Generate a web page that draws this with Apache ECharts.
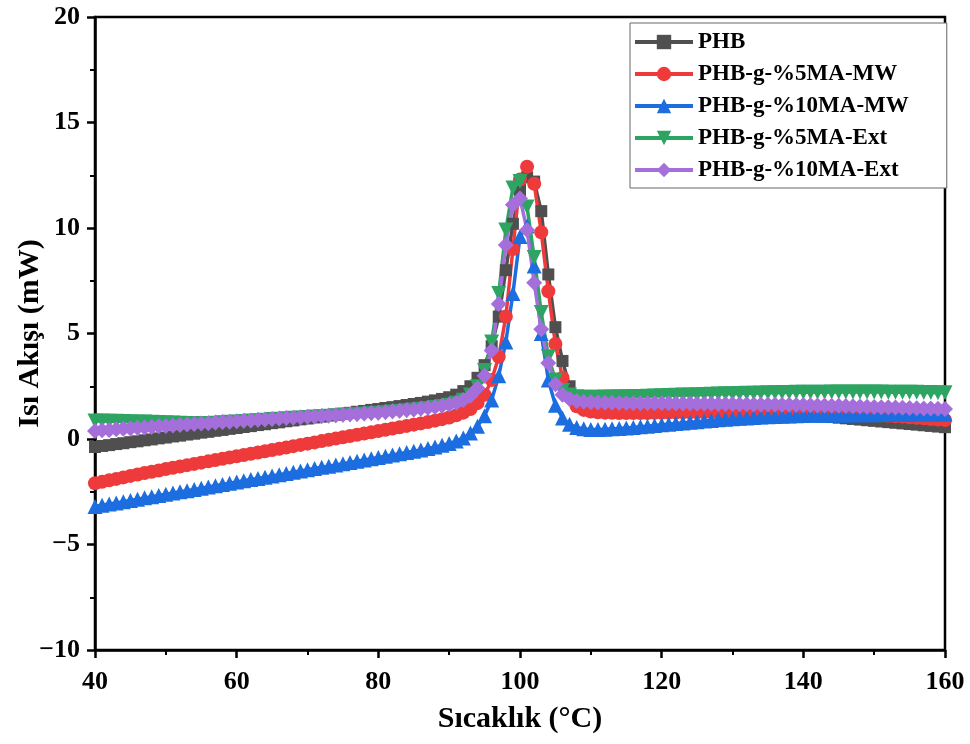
<!DOCTYPE html>
<html>
<head>
<meta charset="utf-8">
<script src="https://cdn.jsdelivr.net/npm/echarts@6/dist/echarts.min.js"></script>
<style>html,body{margin:0;padding:0;background:#fff}#c{width:970px;height:744px}</style>
</head>
<body>
<div id="c"></div>
<script>
// Temperature grid, 40..160 °C in 1 °C steps
const temps = [];
for (let t = 40; t <= 160; t++) temps.push(t);

const seriesNames = ['PHB', 'PHB-g-%5MA-MW', 'PHB-g-%10MA-MW', 'PHB-g-%5MA-Ext', 'PHB-g-%10MA-Ext'];

const phb = [
  -0.38,-0.33,-0.29,-0.24,-0.20,-0.15,-0.11,-0.06,-0.02,0.03,
  0.07,0.12,0.16,0.21,0.25,0.30,0.34,0.39,0.43,0.48,
  0.52,0.57,0.61,0.66,0.70,0.75,0.79,0.84,0.88,0.93,
  0.97,1.02,1.06,1.11,1.15,1.20,1.24,1.29,1.33,1.38,
  1.42,1.47,1.51,1.56,1.61,1.66,1.71,1.77,1.83,1.90,
  1.98,2.10,2.27,2.50,2.90,3.50,4.4,5.8,8.0,10.2,
  11.8,12.4,12.2,10.8,7.8,5.3,3.7,2.5,1.95,1.72,
  1.62,1.60,1.58,1.57,1.56,1.55,1.54,1.53,1.52,1.51,
  1.50,1.49,1.48,1.47,1.45,1.44,1.42,1.40,1.38,1.36,
  1.34,1.32,1.30,1.28,1.26,1.24,1.22,1.20,1.18,1.16,
  1.14,1.12,1.09,1.07,1.04,1.01,0.98,0.95,0.92,0.89,
  0.86,0.83,0.80,0.77,0.74,0.71,0.68,0.65,0.62,0.59,
  0.56
];
const ma5mw = [
  -2.10,-2.03,-1.96,-1.89,-1.82,-1.75,-1.68,-1.61,-1.55,-1.49,
  -1.42,-1.36,-1.30,-1.24,-1.18,-1.12,-1.06,-1.00,-0.94,-0.88,
  -0.82,-0.76,-0.70,-0.64,-0.58,-0.52,-0.46,-0.40,-0.34,-0.28,
  -0.22,-0.16,-0.10,-0.04,0.02,0.08,0.14,0.20,0.26,0.32,
  0.38,0.44,0.50,0.56,0.62,0.68,0.74,0.80,0.87,0.94,
  1.02,1.12,1.25,1.42,1.70,2.10,2.8,3.9,5.8,9.0,
  12.3,12.9,12.1,9.8,7.0,4.5,2.9,2.0,1.55,1.38,
  1.30,1.27,1.25,1.24,1.23,1.23,1.23,1.23,1.23,1.24,
  1.24,1.25,1.25,1.26,1.26,1.27,1.27,1.28,1.28,1.29,
  1.29,1.30,1.30,1.30,1.31,1.31,1.31,1.31,1.31,1.30,
  1.30,1.29,1.28,1.27,1.25,1.24,1.22,1.20,1.18,1.16,
  1.14,1.12,1.10,1.08,1.06,1.03,1.01,0.98,0.95,0.92,
  0.90
];
const ma10mw = [
  -3.20,-3.14,-3.08,-3.03,-2.97,-2.91,-2.85,-2.79,-2.74,-2.68,
  -2.62,-2.56,-2.50,-2.45,-2.39,-2.33,-2.27,-2.21,-2.16,-2.10,
  -2.04,-1.98,-1.92,-1.87,-1.81,-1.75,-1.69,-1.63,-1.58,-1.52,
  -1.46,-1.40,-1.34,-1.29,-1.23,-1.17,-1.11,-1.05,-1.00,-0.94,
  -0.88,-0.82,-0.76,-0.70,-0.64,-0.58,-0.52,-0.45,-0.38,-0.30,
  -0.21,-0.10,0.05,0.28,0.60,1.10,1.85,3.0,4.6,6.9,
  9.6,10.1,8.2,5.0,2.8,1.6,1.0,0.7,0.55,0.48,
  0.45,0.45,0.46,0.48,0.50,0.52,0.55,0.58,0.61,0.64,
  0.67,0.70,0.73,0.76,0.79,0.82,0.85,0.88,0.91,0.94,
  0.96,0.98,1.00,1.02,1.04,1.06,1.07,1.08,1.09,1.10,
  1.11,1.12,1.12,1.13,1.13,1.14,1.14,1.14,1.15,1.15,
  1.15,1.16,1.16,1.17,1.17,1.17,1.18,1.18,1.18,1.18,
  1.19
];
const ma5ext = [
  0.85,0.85,0.84,0.84,0.83,0.82,0.81,0.80,0.79,0.78,
  0.77,0.76,0.75,0.74,0.73,0.73,0.73,0.75,0.77,0.79,
  0.81,0.83,0.85,0.87,0.89,0.92,0.94,0.96,0.98,1.00,
  1.02,1.04,1.06,1.08,1.10,1.12,1.14,1.16,1.18,1.20,
  1.22,1.25,1.28,1.31,1.34,1.37,1.41,1.45,1.49,1.54,
  1.60,1.70,1.84,2.08,2.48,3.25,4.6,6.9,9.9,11.9,
  12.2,11.0,8.6,6.0,3.9,2.8,2.3,2.08,2.0,1.98,
  1.98,1.98,1.99,1.99,2.00,2.00,2.01,2.02,2.03,2.04,
  2.05,2.06,2.07,2.08,2.09,2.10,2.11,2.12,2.13,2.14,
  2.15,2.16,2.17,2.17,2.18,2.19,2.19,2.20,2.20,2.21,
  2.21,2.22,2.22,2.22,2.23,2.23,2.23,2.23,2.23,2.23,
  2.23,2.23,2.22,2.22,2.22,2.21,2.21,2.20,2.20,2.19,
  2.19
];
const ma10ext = [
  0.38,0.41,0.43,0.46,0.48,0.50,0.53,0.55,0.57,0.60,
  0.62,0.64,0.66,0.69,0.71,0.73,0.75,0.78,0.80,0.82,
  0.84,0.86,0.88,0.91,0.93,0.95,0.97,0.99,1.01,1.03,
  1.05,1.07,1.09,1.11,1.13,1.15,1.17,1.19,1.21,1.23,
  1.25,1.28,1.31,1.34,1.37,1.40,1.44,1.48,1.52,1.57,
  1.63,1.72,1.85,2.05,2.40,3.00,4.2,6.4,9.2,11.1,
  11.4,9.9,7.4,5.2,3.6,2.6,2.1,1.9,1.8,1.76,
  1.74,1.73,1.72,1.72,1.71,1.71,1.70,1.70,1.70,1.69,
  1.69,1.69,1.68,1.68,1.68,1.67,1.67,1.67,1.66,1.66,
  1.66,1.65,1.65,1.64,1.64,1.63,1.63,1.62,1.62,1.61,
  1.61,1.60,1.59,1.59,1.58,1.57,1.56,1.55,1.54,1.53,
  1.52,1.51,1.50,1.49,1.48,1.47,1.46,1.45,1.44,1.43,
  1.42
];

const seriesValues = [phb, ma5mw, ma10mw, ma5ext, ma10ext];
const colors = ['#4f4f4f', '#ee3a3a', '#1c6ddf', '#2ea463', '#a46fdb'];
const symbols = ['rect', 'circle', 'triangle', 'triangle', 'diamond'];
const rotations = [0, 0, 0, 180, 0];
const sizes = [12, 14, 15, 15, 16];

const FONT = "'Liberation Serif', 'Times New Roman', serif";
const chart = echarts.init(document.getElementById('c'), null, {renderer: 'canvas'});

const series = seriesNames.map((name, i) => ({
  name: name,
  type: 'line',
  data: temps.map((t, j) => [t, seriesValues[i][j]]),
  symbol: symbols[i],
  symbolRotate: rotations[i],
  symbolSize: sizes[i],
  showSymbol: true,
  showAllSymbol: true,
  lineStyle: {color: colors[i], width: 3.5},
  itemStyle: {color: colors[i]},
  emphasis: {disabled: true},
  animation: false
}));

chart.setOption({
  animation: false,
  backgroundColor: '#fff',
  grid: {left: 95, right: 25, top: 17, bottom: 94, containLabel: false, outerBoundsMode: 'none',
    show: true, borderColor: '#000', borderWidth: 2.5, backgroundColor: 'transparent'},
  legend: {
    orient: 'vertical',
    left: 630, top: 23,
    padding: [6, 38, 5, 3],
    itemGap: 6,
    itemWidth: 58, itemHeight: 18,
    borderColor: '#666', borderWidth: 1,
    backgroundColor: '#fff',
    lineStyle: {width: 4},
    textStyle: {fontFamily: FONT, fontWeight: 'bold', fontSize: 23, color: '#000', lineHeight: 26},
    data: seriesNames
  },
  xAxis: {
    type: 'value', min: 40, max: 160, interval: 20,
    name: 'Sıcaklık (°C)', nameLocation: 'middle', nameGap: 54, nameMoveOverlap: false,
    nameTextStyle: {fontFamily: FONT, fontWeight: 'bold', fontSize: 30, color: '#000'},
    axisLine: {show: true, onZero: false, lineStyle: {color: '#000', width: 2.5}},
    axisTick: {show: true, inside: false, length: 8, lineStyle: {color: '#000', width: 2.5}},
    minorTick: {show: true, splitNumber: 2, length: 5, lineStyle: {color: '#000', width: 2}},
    axisLabel: {fontFamily: FONT, fontWeight: 'bold', fontSize: 26, color: '#000', margin: 19},
    splitLine: {show: false}
  },
  yAxis: {
    type: 'value', min: -10, max: 20, interval: 5,
    name: 'Isı Akışı (mW)', nameLocation: 'middle', nameGap: 50, nameMoveOverlap: false,
    nameTextStyle: {fontFamily: FONT, fontWeight: 'bold', fontSize: 30, color: '#000'},
    axisLine: {show: true, onZero: false, lineStyle: {color: '#000', width: 2.5}},
    axisTick: {show: true, inside: false, length: 8, lineStyle: {color: '#000', width: 2.5}},
    minorTick: {show: true, splitNumber: 2, length: 5, lineStyle: {color: '#000', width: 2}},
    axisLabel: {fontFamily: FONT, fontWeight: 'bold', fontSize: 26, color: '#000', margin: 15,
      formatter: v => (v < 0 ? '\u2212' + Math.abs(v) : String(v))},
    splitLine: {show: false}
  },
  series: series
});
</script>
</body>
</html>
